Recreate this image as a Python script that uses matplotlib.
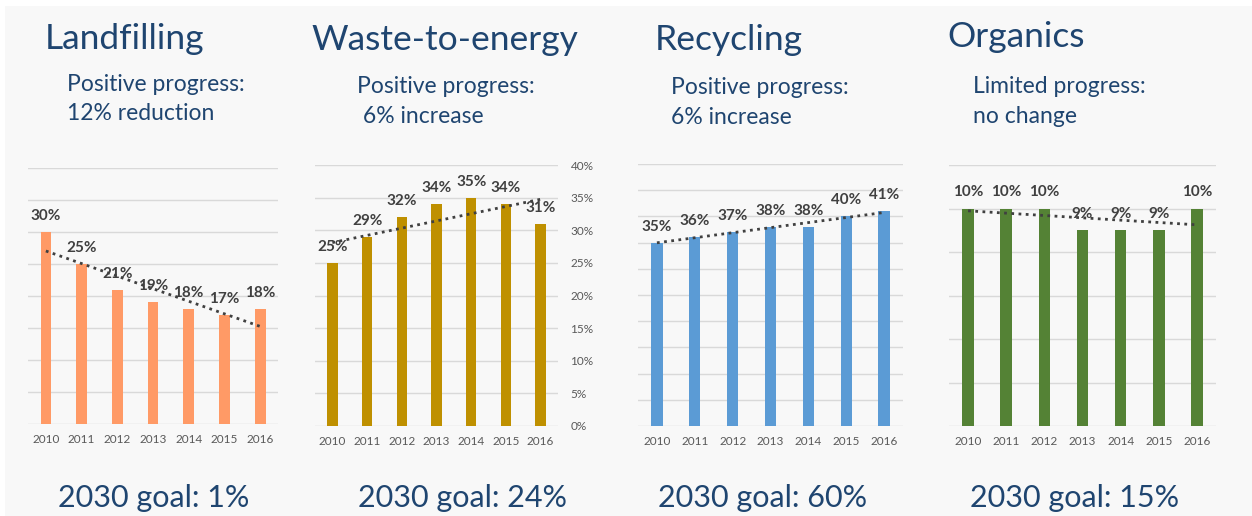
import numpy as np
import matplotlib
matplotlib.use("Agg")
from matplotlib import pyplot as plt
from matplotlib.patches import Rectangle
from matplotlib.ticker import MultipleLocator, FuncFormatter

plt.rcParams['font.family'] = ['Lato', 'DejaVu Sans']

years = ['2010', '2011', '2012', '2013', '2014', '2015', '2016']
landfilling = [30, 25, 21, 19, 18, 17, 18]
waste_to_energy = [25, 29, 32, 34, 35, 34, 31]
recycling = [35, 36, 37, 38, 38, 40, 41]
organics = [10, 10, 10, 9, 9, 9, 10]

titles = ['Landfilling', 'Waste-to-energy', 'Recycling', 'Organics']
progress = [('Positive progress:', '12% reduction'),
            ('Positive progress:', ' 6% increase'),
            ('Positive progress:', '6% increase'),
            ('Limited progress:', 'no change')]
goals = ['2030 goal: 1%', '2030 goal: 24%', '2030 goal: 60%', '2030 goal: 15%']

W, H = 1252, 516
TXT = '#1f4570'
GRID = '#d9d9d9'
LAB = '#404040'
TICK = '#595959'


def fx(px):
    return px / W


def fy(py):
    return 1 - py / H


fig = plt.figure(figsize=(W / 100, H / 100), dpi=100)
fig.patch.set_facecolor('white')
fig.add_artist(Rectangle((fx(5), 0), 1 - fx(5), fy(6), transform=fig.transFigure,
                         facecolor='#f8f8f8', edgecolor='none', zorder=-10))

# panel specs: (data, colour, axes box in pixels l, t, r, b, ymax, ystep, right axis)
panels = [
    (landfilling, '#ff9a66', (28, 168, 278, 424), 40, 5, False),
    (waste_to_energy, '#bf9000', (315, 165, 558, 426), 40, 5, True),
    (recycling, '#5b9bd5', (638, 164, 903, 426), 50, 5, False),
    (organics, '#548235', (949, 165, 1216, 426), 12, 2, False),
]

for vals, col, (l, t, r, b), ymax, step, right in panels:
    ax = fig.add_axes([fx(l), fy(b), fx(r) - fx(l), fy(t) - fy(b)])
    ax.set_facecolor('none')
    x = np.arange(len(years))
    ax.bar(x, vals, width=0.3, color=col, zorder=3)
    for xi, v in zip(x, vals):
        ax.annotate(f'{v}%', (xi, v), xytext=(0, 16), textcoords='offset pixels',
                    ha='center', va='center', fontsize=11, fontweight='bold',
                    color=LAB, zorder=5)
    k, c = np.polyfit(x, vals, 1)
    ax.plot([x[0], x[-1]], [c, c + k * x[-1]], linestyle=(0, (1, 1.6)),
            color='#404040', linewidth=2, zorder=4)
    ax.set_xlim(-0.5, len(years) - 0.5)
    ax.set_ylim(0, ymax)
    ax.yaxis.set_major_locator(MultipleLocator(step))
    ax.grid(axis='y', color=GRID, linewidth=1, zorder=0)
    for s in ax.spines.values():
        s.set_visible(False)
    ax.set_xticks(x)
    ax.set_xticklabels(years)
    ax.tick_params(axis='x', length=0, pad=7, labelsize=8.5, labelcolor=TICK)
    if right:
        ax.yaxis.tick_right()
        ax.yaxis.set_major_formatter(FuncFormatter(lambda v, p: f'{v:.0f}%'))
        ax.tick_params(axis='y', length=0, pad=9, labelsize=8.5, labelcolor=TICK)
    else:
        ax.tick_params(axis='y', length=0, labelleft=False)

title_pos = [(45, 49), (311, 50), (655, 50), (947, 47)]
sub_pos = [(67, 91, 120), (357, 93, 123), (671, 94, 124), (973, 93, 123)]
goal_pos = [58, 358, 658, 970]

for i in range(4):
    tx, ty = title_pos[i]
    fig.text(fx(tx), fy(ty), titles[i], fontsize=25.5, color=TXT, ha='left', va='baseline')
    sx, s1, s2 = sub_pos[i]
    fig.text(fx(sx), fy(s1), progress[i][0], fontsize=16.5, color=TXT, ha='left', va='baseline')
    fig.text(fx(sx), fy(s2), progress[i][1], fontsize=16.5, color=TXT, ha='left', va='baseline')
    fig.text(fx(goal_pos[i]), fy(507), goals[i], fontsize=22, color=TXT, ha='left', va='baseline')

fig.savefig('out.png', dpi=100, facecolor=fig.get_facecolor())
